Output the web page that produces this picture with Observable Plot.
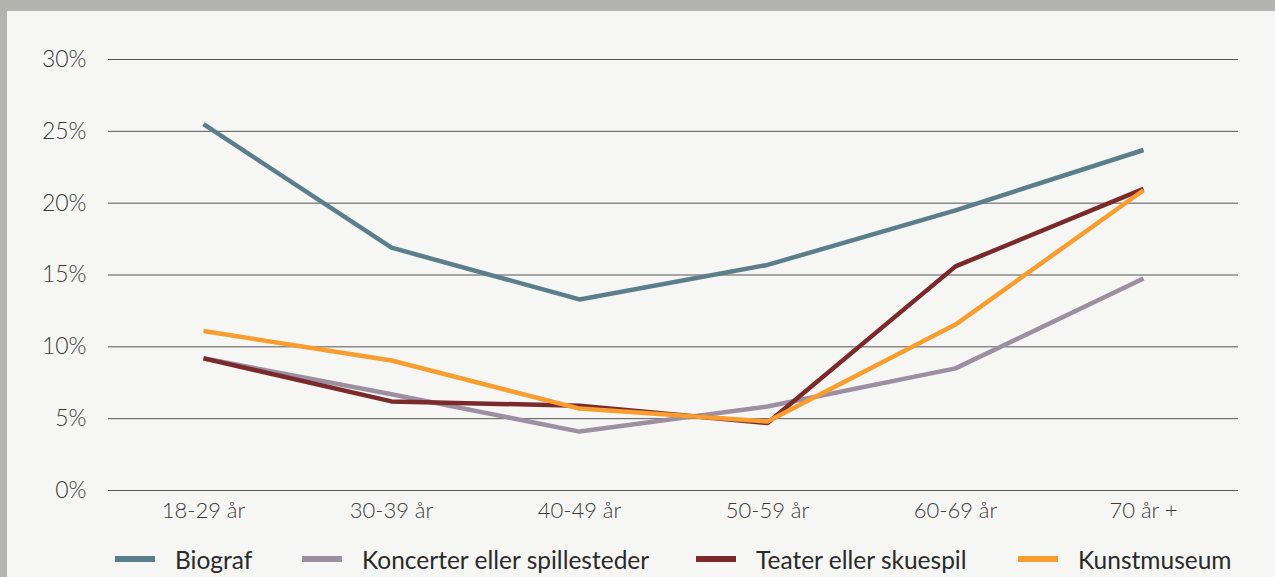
<!DOCTYPE html>
<html>
<head>
<meta charset="utf-8">
<script src="https://cdn.jsdelivr.net/npm/d3@7"></script>
<script src="https://cdn.jsdelivr.net/npm/@observablehq/plot@0.6"></script>
<style>
  html, body { margin: 0; padding: 0; }
  body { width: 1275px; height: 577px; background: #b3b4ae; overflow: hidden; position: relative; }
  #panel { position: absolute; left: 7px; top: 11px; width: 1268px; height: 566px; background: #f6f6f4; }
  #chart svg { display: block; }
  #legend { position: absolute; top: 533px; left: 0; width: 1268px; height: 30px; font-family: Lato, "Open Sans", sans-serif; font-size: 24.5px; color: #2a2a2a; }
  .item { position: absolute; top: 0; display: flex; align-items: center; height: 30px; white-space: nowrap; }
  .sw { width: 40px; height: 5.5px; margin-right: 20px; }
</style>
</head>
<body>
<div id="panel">
  <div id="chart"></div>
  <div id="legend"></div>
</div>
<script>
const ageGroups = ["18-29 år", "30-39 år", "40-49 år", "50-59 år", "60-69 år", "70 år +"];
const seriesNames = ["Biograf", "Koncerter eller spillesteder", "Teater eller skuespil", "Kunstmuseum"];
const seriesColors = ["#5b7f8a", "#9b8fa1", "#7b2a2b", "#f89d2e"];
const biograf = [25.5, 16.9, 13.3, 15.7, 19.5, 23.7];
const koncerter = [9.2, 6.7, 4.1, 5.85, 8.5, 14.75];
const teater = [9.2, 6.2, 5.9, 4.7, 15.6, 21.0];
const kunstmuseum = [11.1, 9.05, 5.7, 4.8, 11.55, 20.9];
const yTicks = [0, 5, 10, 15, 20, 25, 30];

const allSeries = [biograf, koncerter, teater, kunstmuseum];
const data = [];
seriesNames.forEach((s, i) => {
  ageGroups.forEach((a, j) => data.push({series: s, age: a, value: allSeries[i][j]}));
});

const chart = Plot.plot({
  width: 1268,
  height: 522,
  marginLeft: 101,
  marginRight: 37,
  marginTop: 48,
  marginBottom: 43,
  style: { background: "transparent", fontFamily: "Lato, 'Open Sans', sans-serif", fontSize: "19px", color: "#3a3a3a" },
  x: { type: "point", domain: ageGroups, padding: 0.5, label: null },
  y: { domain: [0, 30], label: null },
  color: { domain: seriesNames, range: seriesColors },
  marks: [
    Plot.ruleY(yTicks, { stroke: "#555", strokeWidth: 1 }),
    Plot.axisY(yTicks, { tickSize: 0, tickPadding: 22, tickFormat: d => d + "%", fontSize: 23, fill: "#3a3a3a", fontWeight: 300 }),
    Plot.axisX(ageGroups, { tickSize: 0, tickPadding: 12, fontSize: 22, fill: "#3a3a3a", fontWeight: 300 }),
    Plot.line(data, { x: "age", y: "value", z: "series", stroke: "series", strokeWidth: 4.5, strokeLinejoin: "miter", strokeLinecap: "butt" })
  ]
});
document.getElementById("chart").appendChild(chart);

const legendX = [108, 295, 689, 1011];
const legend = document.getElementById("legend");
seriesNames.forEach((s, i) => {
  const it = document.createElement("div");
  it.className = "item";
  it.style.left = legendX[i] + "px";
  const sw = document.createElement("span");
  sw.className = "sw";
  sw.style.background = seriesColors[i];
  const t = document.createElement("span");
  t.textContent = s;
  it.appendChild(sw); it.appendChild(t);
  legend.appendChild(it);
});
</script>
</body>
</html>
